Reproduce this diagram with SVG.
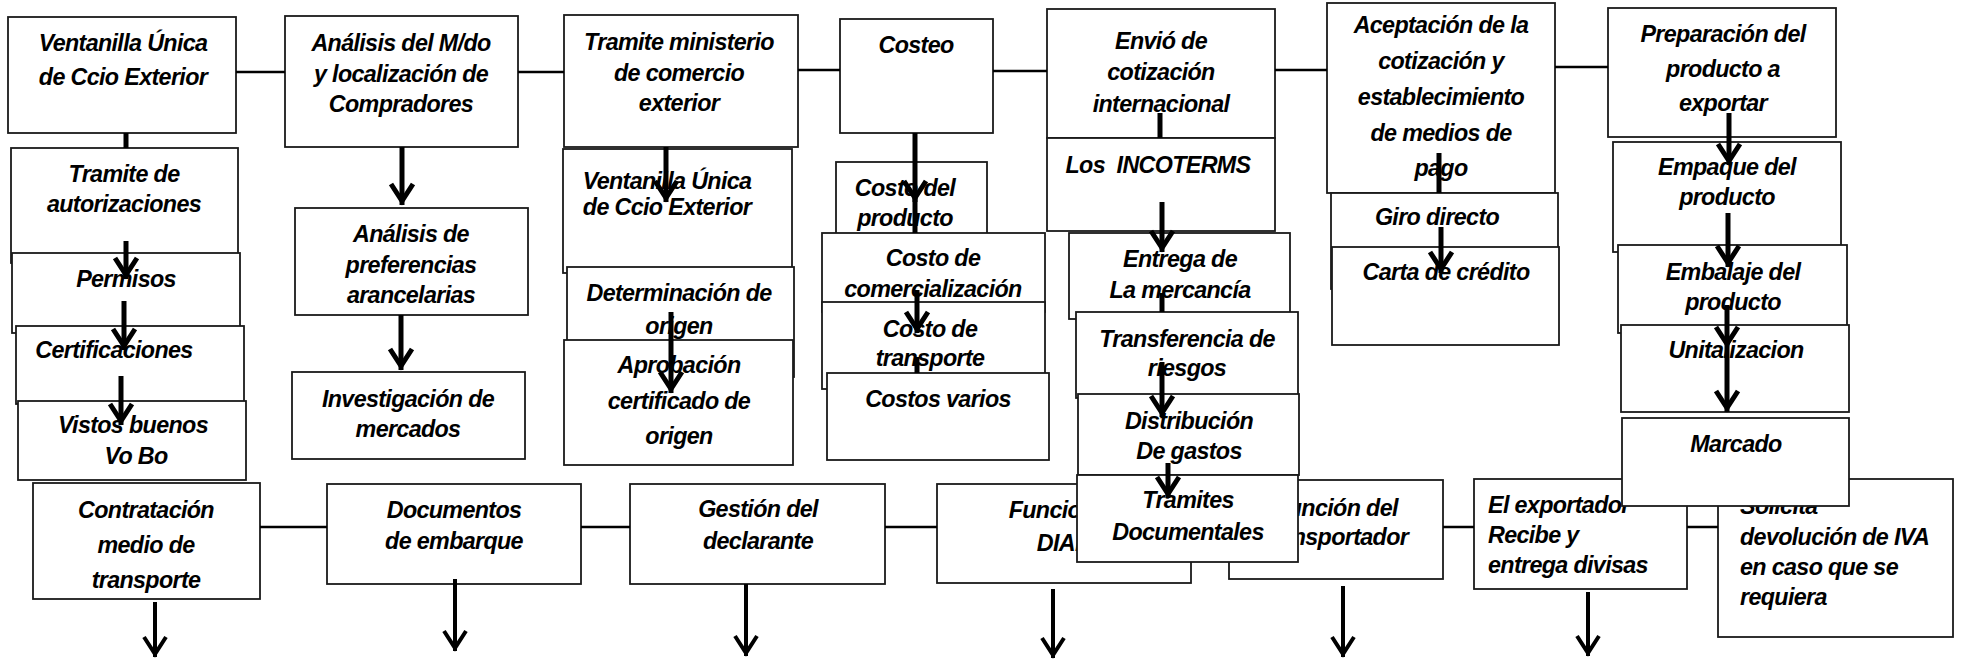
<svg xmlns="http://www.w3.org/2000/svg" width="1961" height="660" viewBox="0 0 1961 660">
<defs>
<style>
.b{fill:#fff;stroke:#1a1a1a;stroke-width:1.8}
.t{font-family:"Liberation Sans",Arial,sans-serif;font-size:23.3px;letter-spacing:-0.65px;font-weight:bold;font-style:italic;fill:#000;text-anchor:middle}
.tl{font-family:"Liberation Sans",Arial,sans-serif;font-size:23.3px;letter-spacing:-0.65px;font-weight:bold;font-style:italic;fill:#000;text-anchor:start}
.h{stroke:#000;stroke-width:2.5;fill:none}
.v{stroke:#000;stroke-width:5;fill:none}
.va{stroke:#000;stroke-width:5;fill:none;marker-end:url(#ah)}
.vb{stroke:#000;stroke-width:4;fill:none;marker-end:url(#ah2)}
</style>
<marker id="ah" markerUnits="userSpaceOnUse" viewBox="-22 -14 30 28" markerWidth="30" markerHeight="28" refX="4" refY="0" orient="auto" overflow="visible">
<path d="M-17,-11 L0,0 L-17,11" fill="none" stroke="#000" stroke-width="5"/>
</marker>
<marker id="ah2" markerUnits="userSpaceOnUse" viewBox="-22 -14 30 28" markerWidth="30" markerHeight="28" refX="3" refY="0" orient="auto" overflow="visible">
<path d="M-17,-11 L0,0 L-17,11" fill="none" stroke="#000" stroke-width="4"/>
</marker>
</defs>
<rect width="1961" height="660" fill="#fff"/>

<g id="nodes">
<!-- bottom row -->
<g id="n-contratacion"><rect class="b" x="33" y="483" width="227" height="116"/>
<text class="t" x="146" y="518">Contratación</text><text class="t" x="146" y="553">medio de</text><text class="t" x="146" y="588">transporte</text></g>
<g id="n-documentos"><rect class="b" x="327" y="484" width="254" height="100"/>
<text class="t" x="454" y="518">Documentos</text><text class="t" x="454" y="549">de embarque</text></g>
<g id="n-gestion"><rect class="b" x="630" y="484" width="255" height="100"/>
<text class="t" x="758" y="517">Gestión del</text><text class="t" x="758" y="549">declarante</text></g>
<g id="n-funciones-dian"><rect class="b" x="937" y="484" width="254" height="99"/>
<text class="t" x="1064" y="518">Funciones</text><text class="t" x="1064" y="551">DIAN</text></g>
<g id="n-funcion-transportador"><rect class="b" x="1229" y="480" width="214" height="99"/>
<text class="t" x="1336" y="516">Función del</text><text class="t" x="1336" y="545">transportador</text></g>
<g id="n-exportador"><rect class="b" x="1474" y="479" width="213" height="110"/>
<text class="tl" x="1488" y="513">El exportador</text><text class="tl" x="1488" y="543">Recibe y</text><text class="tl" x="1488" y="573">entrega divisas</text></g>
<g id="n-solicita"><rect class="b" x="1718" y="479" width="235" height="158"/>
<text class="tl" x="1740" y="514">Solicita</text><text class="tl" x="1740" y="545">devolución de IVA</text><text class="tl" x="1740" y="575">en caso que se</text><text class="tl" x="1740" y="605">requiera</text></g>

<!-- column 1 -->
<g id="n-ventanilla"><rect class="b" x="8" y="17" width="228" height="116"/>
<text class="t" x="123" y="51">Ventanilla Única</text><text class="t" x="123" y="85">de Ccio Exterior</text></g>
<g id="n-tramite-autorizaciones"><rect class="b" x="11" y="148" width="227" height="115"/>
<text class="t" x="124" y="182">Tramite de</text><text class="t" x="124" y="212">autorizaciones</text></g>
<g id="n-permisos"><rect class="b" x="12" y="253" width="228" height="80"/>
<text class="t" x="126" y="287">Permisos</text></g>
<g id="n-certificaciones"><rect class="b" x="16" y="326" width="228" height="78"/>
<text class="t" x="114" y="358">Certificaciones</text></g>
<g id="n-vistos"><rect class="b" x="18" y="401" width="228" height="79"/>
<text class="t" x="133" y="433">Vistos buenos</text><text class="t" x="136" y="464">Vo Bo</text></g>

<!-- column 2 -->
<g id="n-analisis-mdo"><rect class="b" x="285" y="16" width="233" height="131"/>
<text class="t" x="401" y="51">Análisis del M/do</text><text class="t" x="401" y="82">y localización de</text><text class="t" x="401" y="112">Compradores</text></g>
<g id="n-preferencias"><rect class="b" x="295" y="208" width="233" height="107"/>
<text class="t" x="411" y="242">Análisis de</text><text class="t" x="411" y="273">preferencias</text><text class="t" x="411" y="303">arancelarias</text></g>
<g id="n-investigacion"><rect class="b" x="292" y="372" width="233" height="87"/>
<text class="t" x="408" y="407">Investigación de</text><text class="t" x="408" y="437">mercados</text></g>

<!-- column 3 -->
<g id="n-tramite-ministerio"><rect class="b" x="564" y="15" width="234" height="132"/>
<text class="t" x="679" y="50">Tramite ministerio</text><text class="t" x="679" y="81">de comercio</text><text class="t" x="679" y="111">exterior</text></g>
<g id="n-ventanilla-2"><rect class="b" x="563" y="149" width="229" height="124"/>
<text class="t" x="667" y="189">Ventanilla Única</text><text class="t" x="667" y="215">de Ccio Exterior</text></g>
<g id="n-determinacion"><rect class="b" x="567" y="267" width="227" height="110"/>
<text class="t" x="679" y="301">Determinación de</text><text class="t" x="679" y="334">origen</text></g>
<g id="n-aprobacion"><rect class="b" x="564" y="340" width="229" height="125"/>
<text class="t" x="679" y="373">Aprobación</text><text class="t" x="679" y="409">certificado de</text><text class="t" x="679" y="444">origen</text></g>

<!-- column 4 -->
<g id="n-costeo"><rect class="b" x="840" y="19" width="153" height="114"/>
<text class="t" x="916" y="53">Costeo</text></g>
<g id="n-costo-producto"><rect class="b" x="836" y="162" width="151" height="84"/>
<text class="t" x="905" y="196">Costo del</text><text class="t" x="905" y="226">producto</text></g>
<g id="n-costo-comercializacion"><rect class="b" x="822" y="233" width="223" height="79"/>
<text class="t" x="933" y="266">Costo de</text><text class="t" x="933" y="297">comercialización</text></g>
<g id="n-costo-transporte"><rect class="b" x="822" y="302" width="223" height="87"/>
<text class="t" x="930" y="337">Costo de</text><text class="t" x="930" y="366">transporte</text></g>
<g id="n-costos-varios"><rect class="b" x="827" y="373" width="222" height="87"/>
<text class="t" x="938" y="407">Costos varios</text></g>

<!-- column 5 -->
<g id="n-envio"><rect class="b" x="1047" y="9" width="228" height="129"/>
<text class="t" x="1161" y="49">Envió de</text><text class="t" x="1161" y="80">cotización</text><text class="t" x="1161" y="112">internacional</text></g>
<g id="n-incoterms"><rect class="b" x="1047" y="138" width="228" height="93"/>
<text class="t" x="1158" y="173" xml:space="preserve">Los  INCOTERMS</text></g>
<g id="n-entrega"><rect class="b" x="1069" y="233" width="221" height="86"/>
<text class="t" x="1180" y="267">Entrega de</text><text class="t" x="1180" y="298">La mercancía</text></g>
<g id="n-transferencia"><rect class="b" x="1076" y="312" width="222" height="86"/>
<text class="t" x="1187" y="347">Transferencia de</text><text class="t" x="1187" y="376">riesgos</text></g>
<g id="n-distribucion"><rect class="b" x="1078" y="394" width="221" height="81"/>
<text class="t" x="1189" y="429">Distribución</text><text class="t" x="1189" y="459">De gastos</text></g>
<g id="n-tramites-documentales"><rect class="b" x="1077" y="475" width="221" height="87"/>
<text class="t" x="1188" y="508">Tramites</text><text class="t" x="1188" y="540">Documentales</text></g>

<!-- column 6 -->
<g id="n-aceptacion"><rect class="b" x="1327" y="3" width="228" height="190"/>
<text class="t" x="1441" y="33">Aceptación de la</text><text class="t" x="1441" y="69">cotización y</text><text class="t" x="1441" y="105">establecimiento</text><text class="t" x="1441" y="141">de medios de</text><text class="t" x="1441" y="176">pago</text></g>
<g id="n-giro"><rect class="b" x="1331" y="193" width="227" height="96"/>
<text class="t" x="1437" y="225">Giro directo</text></g>
<g id="n-carta"><rect class="b" x="1332" y="247" width="227" height="98"/>
<text class="t" x="1446" y="280">Carta de crédito</text></g>

<!-- column 7 -->
<g id="n-preparacion"><rect class="b" x="1608" y="8" width="228" height="129"/>
<text class="t" x="1723" y="42">Preparación del</text><text class="t" x="1723" y="77">producto a</text><text class="t" x="1723" y="111">exportar</text></g>
<g id="n-empaque"><rect class="b" x="1613" y="142" width="228" height="110"/>
<text class="t" x="1727" y="175">Empaque del</text><text class="t" x="1727" y="205">producto</text></g>
<g id="n-embalaje"><rect class="b" x="1618" y="245" width="229" height="88"/>
<text class="t" x="1733" y="280">Embalaje del</text><text class="t" x="1733" y="310">producto</text></g>
<g id="n-unitalizacion"><rect class="b" x="1621" y="325" width="228" height="87"/>
<text class="t" x="1736" y="358">Unitalizacion</text></g>
<g id="n-marcado"><rect class="b" x="1622" y="418" width="227" height="88"/>
<text class="t" x="1736" y="452">Marcado</text></g>
</g>

<g id="connectors">
<path class="h" d="M236,72H285 M518,72H564 M798,70H840 M993,71H1047 M1275,70H1327 M1555,67H1608"/>
<path class="h" d="M260,527H327 M581,527H630 M885,527H937 M1443,527H1474 M1687,527H1718"/>
<!-- column 1 -->
<path class="v" d="M126,133V148"/>
<path class="va" d="M126,241V279"/>
<path class="va" d="M124,301V350"/>
<path class="va" d="M121,376V425"/>
<!-- column 2 -->
<path class="va" d="M402,147V205"/>
<path class="va" d="M401,315V370"/>
<!-- column 3 -->
<path class="va" d="M666,147V202"/>
<path class="va" d="M671,312V393"/>
<!-- column 4 -->
<path class="va" d="M915,133V202"/>
<path class="v" d="M915,198V233"/>
<path class="va" d="M917,290V333"/>
<path class="v" d="M917,357V373"/>
<!-- column 5 -->
<path class="v" d="M1160,113V138"/>
<path class="va" d="M1162,202V252"/>
<path class="v" d="M1162,293V312"/>
<path class="va" d="M1162,362V417"/>
<path class="va" d="M1168,463V498"/>
<!-- column 6 -->
<path class="v" d="M1439,153V193"/>
<path class="va" d="M1441,227V273"/>
<!-- column 7 -->
<path class="va" d="M1729,113V165"/>
<path class="va" d="M1728,213V267"/>
<path class="va" d="M1727,305V348"/>
<path class="va" d="M1727,348V412"/>
<!-- bottom arrows -->
<path class="vb" d="M155,602V657"/>
<path class="vb" d="M455,579V651"/>
<path class="vb" d="M746,584V656"/>
<path class="vb" d="M1053,589V658"/>
<path class="vb" d="M1343,586V657"/>
<path class="vb" d="M1588,592V656"/>
</g>
</svg>
